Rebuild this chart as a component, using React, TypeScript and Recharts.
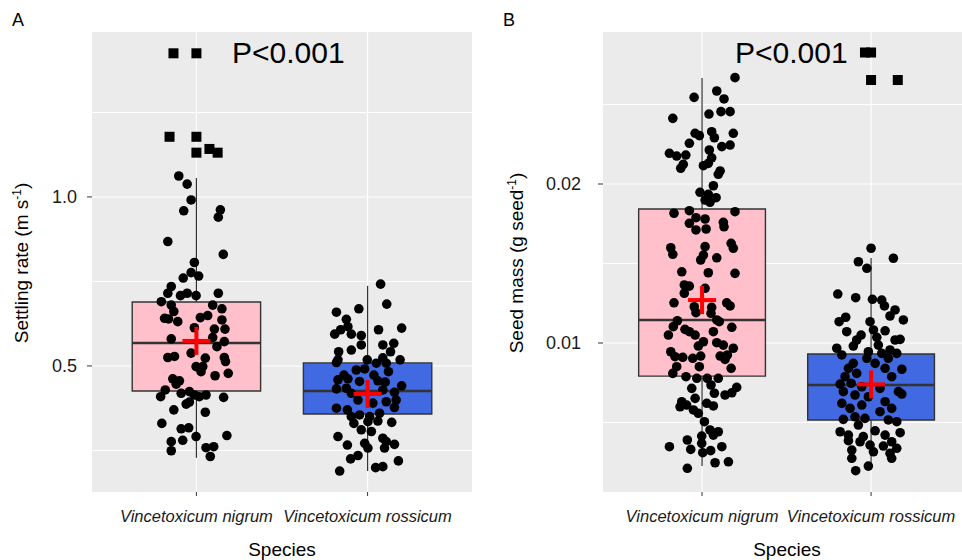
import { ComposedChart, Scatter, XAxis, YAxis, CartesianGrid, ReferenceArea, ReferenceLine } from 'recharts'

const SPECIES = ['Vincetoxicum nigrum', 'Vincetoxicum rossicum']
const FILLS = ['#FFC0CB', '#4169E1']
const FONT = '"Liberation Sans", Arial, Helvetica, sans-serif'
const INK = '#333333'

// box stats per species: [lower whisker, q1, median, q3, upper whisker, mean]
const settlingStats = [
  [0.228, 0.426, 0.568, 0.689, 1.056, 0.574],
  [0.189, 0.358, 0.426, 0.509, 0.737, 0.417],
]
const massStats = [
  [0.00226, 0.00792, 0.01145, 0.01843, 0.02667, 0.0127],
  [0.00207, 0.00516, 0.00736, 0.00931, 0.01535, 0.0074],
]

// jittered observations: [x offset from species, value]
const settlingNigrum = [
  [-0.103,1.062],[-0.054,1.038],[-0.031,0.991],[-0.074,0.959],[0.140,0.962],[0.128,0.940],[-0.167,0.868],[0.157,0.830],
  [-0.012,0.806],[-0.031,0.776],[0.013,0.766],[-0.077,0.760],[-0.147,0.735],[-0.167,0.715],[-0.093,0.708],[-0.054,0.715],
  [-0.002,0.708],[0.128,0.715],[-0.205,0.690],[-0.147,0.680],[-0.132,0.661],[0.095,0.680],[0.149,0.669],[-0.186,0.641],
  [-0.163,0.639],[-0.109,0.631],[0.023,0.643],[0.066,0.649],[0.149,0.636],[-0.012,0.613],[0.105,0.609],[0.167,0.609],
  [-0.147,0.580],[0.095,0.584],[0.163,0.572],[0.120,0.557],[-0.031,0.538],[-0.167,0.525],[-0.128,0.528],[0.052,0.523],
  [0.163,0.525],[0.170,0.513],[-0.002,0.498],[0.037,0.498],[0.027,0.483],[0.109,0.471],[0.186,0.478],[-0.138,0.462],
  [-0.118,0.446],[-0.099,0.456],[-0.182,0.429],[-0.209,0.409],[-0.089,0.419],[-0.041,0.424],[-0.012,0.414],[0.017,0.409],
  [0.056,0.414],[0.159,0.407],[-0.041,0.393],[-0.060,0.387],[-0.132,0.370],[0.052,0.363],[-0.202,0.330],[-0.089,0.314],
  [-0.045,0.317],[-0.002,0.291],[0.178,0.294],[-0.147,0.276],[-0.080,0.280],[0.056,0.258],[0.101,0.261],[-0.147,0.249],
  [0.081,0.232],
]
const settlingRossicum = [
  [0.076,0.742],[0.112,0.683],[-0.182,0.659],[-0.051,0.669],[-0.124,0.638],[-0.115,0.616],[-0.157,0.607],[-0.192,0.594],
  [-0.095,0.594],[-0.037,0.590],[0.064,0.607],[0.199,0.612],[-0.037,0.562],[0.089,0.562],[0.153,0.567],[0.134,0.542],
  [-0.095,0.547],[-0.169,0.542],[-0.173,0.518],[-0.002,0.518],[0.089,0.524],[0.190,0.518],[-0.182,0.510],[0.051,0.508],
  [0.109,0.508],[-0.066,0.488],[-0.017,0.491],[0.122,0.483],[-0.138,0.473],[0.037,0.473],[-0.173,0.459],[-0.115,0.462],
  [-0.047,0.454],[0.060,0.456],[0.103,0.452],[0.199,0.441],[-0.182,0.432],[-0.124,0.434],[-0.095,0.419],[0.089,0.429],
  [0.157,0.422],[0.167,0.399],[-0.056,0.399],[0.031,0.390],[0.109,0.394],[-0.182,0.375],[-0.118,0.370],[0.157,0.377],
  [-0.095,0.350],[-0.047,0.355],[0.012,0.350],[0.070,0.360],[-0.080,0.330],[0.002,0.335],[0.060,0.337],[0.141,0.333],
  [-0.037,0.311],[0.022,0.306],[-0.173,0.291],[0.089,0.286],[-0.118,0.266],[-0.017,0.271],[0.109,0.276],[0.157,0.268],
  [0.002,0.257],[0.099,0.257],[-0.056,0.235],[-0.099,0.225],[0.180,0.219],[-0.163,0.189],[0.047,0.199],[0.089,0.202],
]
// squares: [species index, x offset, value]
const settlingOutliers = [
  [0,-0.134,1.425],[0,0,1.425],[0,-0.157,1.178],[0,0,1.178],[0,0,1.131],[0,0.076,1.142],[0,0.124,1.131],
]

const massNigrum = [
  [0.195,0.02669],[0.087,0.02585],[0.130,0.02535],[-0.047,0.02545],[-0.173,0.02413],[0.041,0.02440],[0.112,0.02455],[0.166,0.02455],
  [-0.041,0.02319],[-0.016,0.02304],[0.057,0.02329],[0.073,0.02291],[0.185,0.02319],[-0.075,0.02256],[0.117,0.02235],[0.166,0.02245],
  [-0.193,0.02193],[-0.150,0.02176],[-0.096,0.02182],[0.043,0.02214],[-0.111,0.02124],[-0.126,0.02099],[0.008,0.02115],[0.037,0.02130],
  [0.057,0.02165],[0.107,0.02082],[0.096,0.02061],[0.067,0.01989],[-0.012,0.01948],[0.037,0.01935],[0.083,0.01914],[0.018,0.01899],
  [0.047,0.01885],[-0.166,0.01816],[-0.075,0.01832],[-0.036,0.01788],[0.018,0.01780],[0.195,0.01826],[-0.075,0.01753],[0.126,0.01759],
  [-0.036,0.01711],[0.024,0.01717],[0.130,0.01731],[-0.185,0.01599],[-0.173,0.01558],[0.018,0.01606],[0.008,0.01553],[-0.008,0.01522],
  [0.087,0.01536],[0.172,0.01627],[0.185,0.01596],
  [-0.120,0.01448],[0.037,0.01442],[0.195,0.01438],[-0.105,0.01365],[-0.075,0.01358],[0.018,0.01344],[-0.105,0.01313],[-0.166,0.01253],
  [0.146,0.01253],[0.166,0.01233],[-0.046,0.01228],[0.057,0.01224],[-0.036,0.01191],[0.053,0.01187],[0.087,0.01145],[0.102,0.01134],
  [-0.146,0.01140],[-0.170,0.01103],[-0.101,0.01086],[-0.075,0.01071],[0.067,0.01071],[0.176,0.01099],[-0.199,0.01050],[-0.041,0.01050],
  [0.008,0.01008],[0.087,0.01002],[0.126,0.00987],[-0.022,0.00981],[0.185,0.00967],[-0.185,0.00945],[-0.160,0.00914],[-0.114,0.00910],
  [-0.055,0.00904],[-0.008,0.00918],[0.107,0.00918],[0.136,0.00897],[0.150,0.00925],[-0.150,0.00851],[-0.016,0.00851],[0.172,0.00841],
  [-0.173,0.00809],[-0.095,0.00788],[-0.031,0.00778],[0.031,0.00778],[0.096,0.00778],[-0.061,0.00715],[0.053,0.00736],[0.205,0.00721],
  [0.073,0.00684],[0.136,0.00673],[0.176,0.00687],[-0.120,0.00631],[-0.041,0.00652],[-0.130,0.00599],[-0.091,0.00610],[-0.051,0.00579],
  [0.028,0.00621],[0.067,0.00604],[-0.022,0.00558],[0.014,0.00505],[0.047,0.00453],[0.067,0.00421],[0.096,0.00442],[-0.002,0.00415],
  [-0.087,0.00390],[-0.002,0.00369],[-0.193,0.00348],[-0.067,0.00331],[0.004,0.00310],[0.051,0.00323],[0.117,0.00348],[0.077,0.00247],
  [0.156,0.00253],[-0.087,0.00212],
]
const massRossicum = [
  [0.000,0.01596],[-0.075,0.01511],[0.132,0.01533],[-0.025,0.01470],[-0.197,0.01308],[-0.091,0.01285],[0.008,0.01275],[0.063,0.01270],
  [0.079,0.01233],[0.142,0.01208],[0.112,0.01170],[0.191,0.01145],[-0.150,0.01162],[-0.189,0.01134],[-0.006,0.01134],[0.014,0.01082],
  [-0.144,0.01071],[-0.059,0.01050],[0.083,0.01077],[-0.085,0.01019],[0.034,0.01036],[0.142,0.01019],[0.172,0.01023],[-0.105,0.00981],
  [0.043,0.00987],[-0.203,0.00967],[0.112,0.00956],[-0.016,0.00945],[-0.173,0.00925],[0.063,0.00935],[0.152,0.00935],[-0.025,0.00904],
  [0.102,0.00904],[-0.105,0.00872],[0.024,0.00872],[-0.134,0.00841],[0.182,0.00835],[0.083,0.00841],[-0.085,0.00809],[-0.154,0.00788],
  [0.122,0.00788],[-0.183,0.00742],[-0.118,0.00747],[-0.055,0.00725],[0.053,0.00715],[-0.164,0.00694],[0.162,0.00694],[0.182,0.00679],
  [-0.095,0.00673],[-0.016,0.00662],[0.083,0.00631],[-0.173,0.00621],[-0.055,0.00610],[-0.124,0.00589],[0.053,0.00568],[0.122,0.00589],
  [-0.095,0.00536],[-0.036,0.00526],[-0.164,0.00520],[0.102,0.00516],[0.152,0.00505],[-0.075,0.00484],[0.024,0.00448],[-0.183,0.00442],
  [-0.134,0.00421],[-0.046,0.00411],[0.083,0.00421],[0.172,0.00436],[-0.134,0.00386],[-0.065,0.00379],[0.122,0.00379],[-0.006,0.00358],
  [0.073,0.00352],[0.152,0.00338],[-0.114,0.00327],[0.014,0.00316],[0.112,0.00306],[-0.114,0.00275],[-0.016,0.00226],[0.122,0.00275],
  [-0.091,0.00197],
]
const massOutliers = [
  [1,-0.036,0.02827],[1,0,0.02827],[1,0,0.02654],[1,0.158,0.02654],
]

const HALF_BOX = 0.375

const Dot = (p: any) => <circle cx={p.cx} cy={p.cy} r={4.8} fill="#000" />
const Square = (p: any) => <rect x={p.cx - 5} y={p.cy - 5} width={10} height={10} fill="#000" />
const Cross = (p: any) => (
  <g>
    <line x1={p.cx - 14} x2={p.cx + 14} y1={p.cy} y2={p.cy} stroke="#FF0000" strokeWidth={4} />
    <line x1={p.cx} x2={p.cx} y1={p.cy - 14} y2={p.cy + 14} stroke="#FF0000" strokeWidth={4} />
  </g>
)

function Panel({ width, marginLeft, marginRight, xDomain, yDomain, yTicks, grid, fmt, tickMargin, stats, groups, outliers }: any) {
  const pts = groups.flatMap((g: number[][], i: number) => g.map(([dx, y]) => ({ x: i + 1 + dx, y })))
  const outs = outliers.map(([i, dx, y]: number[]) => ({ x: i + 1 + dx, y }))
  const means = stats.map((s: number[], i: number) => ({ x: i + 1, y: s[5] }))
  return (
    <ComposedChart width={width} height={560} margin={{ top: 32, right: marginRight, bottom: 28, left: marginLeft }}>
      <CartesianGrid fill="#EBEBEB" stroke="#FFFFFF" strokeWidth={1.1} horizontalValues={grid} verticalValues={[1, 2]} />
      <XAxis type="number" dataKey="x" domain={xDomain} ticks={[1, 2]} interval={0} allowDataOverflow
        tickFormatter={(v: number) => SPECIES[v - 1]} axisLine={false} tickLine={{ stroke: INK }} tickSize={4} tickMargin={14} height={40}
        tick={{ fontSize: 16.5, fontStyle: 'italic', fill: '#1a1a1a', fontFamily: FONT }} />
      <YAxis type="number" dataKey="y" domain={yDomain} ticks={yTicks} interval={0} allowDataOverflow
        tickFormatter={fmt} axisLine={false} tickLine={{ stroke: INK }} tickSize={5} tickMargin={tickMargin} width={62}
        tick={{ fontSize: 18, fill: '#1a1a1a', fontFamily: FONT }} />
      {stats.map((s: number[], i: number) => (
        <ReferenceLine key={'wl' + i} segment={[{ x: i + 1, y: s[0] }, { x: i + 1, y: s[1] }]} stroke={INK} strokeWidth={1.2} ifOverflow="visible" />
      ))}
      {stats.map((s: number[], i: number) => (
        <ReferenceLine key={'wh' + i} segment={[{ x: i + 1, y: s[3] }, { x: i + 1, y: s[4] }]} stroke={INK} strokeWidth={1.2} ifOverflow="visible" />
      ))}
      {stats.map((s: number[], i: number) => (
        <ReferenceArea key={'b' + i} x1={i + 1 - HALF_BOX} x2={i + 1 + HALF_BOX} y1={s[1]} y2={s[3]}
          fill={FILLS[i]} fillOpacity={1} stroke={INK} strokeWidth={1.4} ifOverflow="visible" />
      ))}
      {stats.map((s: number[], i: number) => (
        <ReferenceLine key={'m' + i} segment={[{ x: i + 1 - HALF_BOX, y: s[2] }, { x: i + 1 + HALF_BOX, y: s[2] }]} stroke={INK} strokeWidth={2.4} ifOverflow="visible" />
      ))}
      <Scatter data={pts} shape={Dot} isAnimationActive={false} />
      <Scatter data={outs} shape={Square} isAnimationActive={false} />
      <Scatter data={means} shape={Cross} isAnimationActive={false} />
    </ComposedChart>
  )
}

export default function App() {
  return (
    <div style={{ position: 'absolute', left: 0, top: 0, width: 962, height: 560, background: '#fff', overflow: 'hidden' }}>
      <div style={{ position: 'absolute', left: 0, top: 0 }}>
        <Panel width={480} marginLeft={30} marginRight={8} xDomain={[0.39, 2.61]} yDomain={[0.127, 1.488]}
          yTicks={[0.5, 1.0]} grid={[0.25, 0.5, 0.75, 1.0, 1.25]} fmt={(v: number) => v.toFixed(1)} tickMargin={10}
          stats={settlingStats} groups={[settlingNigrum, settlingRossicum]} outliers={settlingOutliers} />
      </div>
      <div style={{ position: 'absolute', left: 480, top: 0 }}>
        <Panel width={482} marginLeft={61} marginRight={0} xDomain={[0.414, 2.538]} yDomain={[0.00063, 0.02956]}
          yTicks={[0.01, 0.02]} grid={[0.005, 0.01, 0.015, 0.02, 0.025]} fmt={(v: number) => v.toFixed(2)} tickMargin={17}
          stats={massStats} groups={[massNigrum, massRossicum]} outliers={massOutliers} />
      </div>
      <svg width={962} height={560} style={{ position: 'absolute', left: 0, top: 0, pointerEvents: 'none' }} fontFamily={FONT} fill="#000">
        <text x={12} y={26} fontSize={18}>A</text>
        <text x={503} y={26} fontSize={18}>B</text>
        <text x={232} y={63} fontSize={30}>P&lt;0.001</text>
        <text x={735} y={63} fontSize={30}>P&lt;0.001</text>
        <text x={282} y={556} fontSize={19} textAnchor="middle">Species</text>
        <text x={787} y={556} fontSize={19} textAnchor="middle">Species</text>
        <text transform="translate(28,263) rotate(-90)" fontSize={19} textAnchor="middle">
          Settling rate (m s<tspan dy={-7} fontSize={12}>-1</tspan><tspan dy={7}>)</tspan>
        </text>
        <text transform="translate(523,263) rotate(-90)" fontSize={19} textAnchor="middle">
          Seed mass (g seed<tspan dy={-7} fontSize={12}>-1</tspan><tspan dy={7}>)</tspan>
        </text>
      </svg>
    </div>
  )
}
